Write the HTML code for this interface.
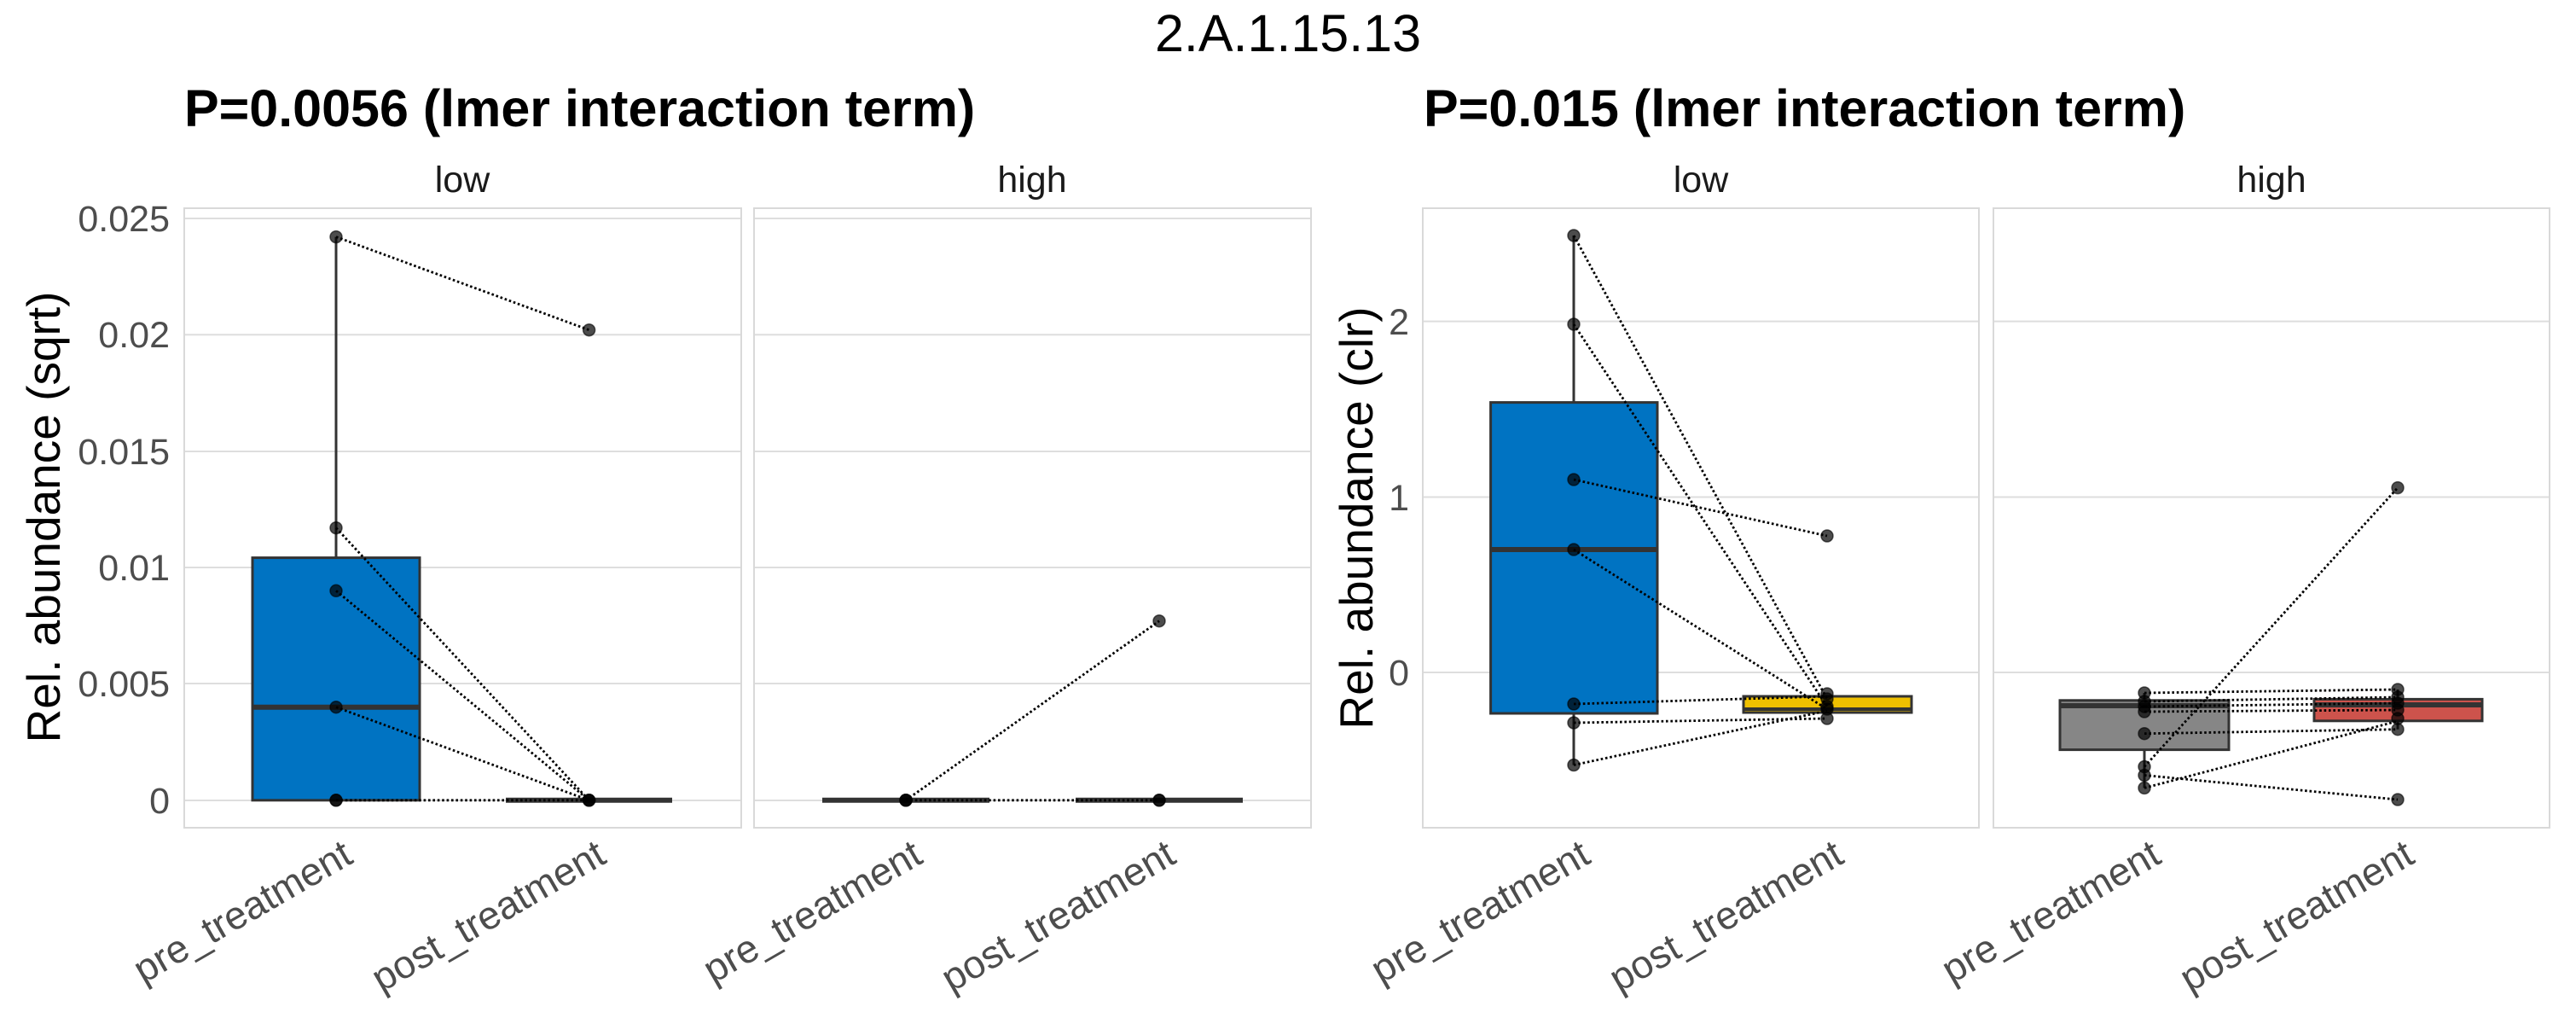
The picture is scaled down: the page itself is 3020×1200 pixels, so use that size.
<!DOCTYPE html>
<html><head><meta charset="utf-8"><style>
html,body{margin:0;padding:0;background:#fff;}
svg{display:block;}
text{font-family:"Liberation Sans",Arial,sans-serif;}
</style></head><body>
<svg width="3020" height="1200" viewBox="0 0 3020 1200" xmlns="http://www.w3.org/2000/svg">
<rect width="3020" height="1200" fill="#fff"/>
<!-- titles -->
<text x="1510" y="60" font-size="61" text-anchor="middle" fill="#000">2.A.1.15.13</text>
<text x="216" y="148" font-size="61" font-weight="bold" fill="#000">P=0.0056 (lmer interaction term)</text>
<text x="1669" y="148" font-size="61" font-weight="bold" fill="#000">P=0.015 (lmer interaction term)</text>
<!-- strips -->
<g font-size="43" fill="#1a1a1a" text-anchor="middle">
<text x="542" y="225">low</text>
<text x="1210" y="225">high</text>
<text x="1994" y="225">low</text>
<text x="2663" y="225">high</text>
</g>
<!-- y titles -->
<text transform="translate(70,606) rotate(-90)" font-size="55" text-anchor="middle" fill="#000">Rel. abundance (sqrt)</text>
<text transform="translate(1609,607) rotate(-90)" font-size="55" text-anchor="middle" fill="#000">Rel. abundance (clr)</text>

<!-- gridlines -->
<g stroke="#dedede" stroke-width="2">
<line x1="216" x2="869" y1="256" y2="256"/><line x1="216" x2="869" y1="392.3" y2="392.3"/><line x1="216" x2="869" y1="529" y2="529"/><line x1="216" x2="869" y1="665" y2="665"/><line x1="216" x2="869" y1="801" y2="801"/><line x1="216" x2="869" y1="938" y2="938"/>
<line x1="884" x2="1537" y1="256" y2="256"/><line x1="884" x2="1537" y1="392.3" y2="392.3"/><line x1="884" x2="1537" y1="529" y2="529"/><line x1="884" x2="1537" y1="665" y2="665"/><line x1="884" x2="1537" y1="801" y2="801"/><line x1="884" x2="1537" y1="938" y2="938"/>
<line x1="1668" x2="2320" y1="376.6" y2="376.6"/><line x1="1668" x2="2320" y1="582.5" y2="582.5"/><line x1="1668" x2="2320" y1="788" y2="788"/>
<line x1="2337" x2="2989" y1="376.6" y2="376.6"/><line x1="2337" x2="2989" y1="582.5" y2="582.5"/><line x1="2337" x2="2989" y1="788" y2="788"/>
</g>
<!-- panel borders -->
<g fill="none" stroke="#d9d9d9" stroke-width="2">
<rect x="216" y="244" width="653" height="726"/>
<rect x="884" y="244" width="653" height="726"/>
<rect x="1668" y="244" width="652" height="726"/>
<rect x="2337" y="244" width="652" height="726"/>
</g>
<!-- y tick labels -->
<g font-size="43" fill="#4d4d4d" text-anchor="end">
<text x="199" y="271">0.025</text><text x="199" y="407">0.02</text><text x="199" y="544">0.015</text><text x="199" y="680">0.01</text><text x="199" y="816">0.005</text><text x="199" y="953">0</text>
<text x="1652" y="392">2</text><text x="1652" y="598">1</text><text x="1652" y="803">0</text>
</g>
<!-- x tick labels -->
<g font-size="46" fill="#4d4d4d" text-anchor="end">
<text transform="translate(416,1010) rotate(-30)">pre_treatment</text>
<text transform="translate(713,1010) rotate(-30)">post_treatment</text>
<text transform="translate(1084,1010) rotate(-30)">pre_treatment</text>
<text transform="translate(1381,1010) rotate(-30)">post_treatment</text>
<text transform="translate(1867,1010) rotate(-30)">pre_treatment</text>
<text transform="translate(2164,1010) rotate(-30)">post_treatment</text>
<text transform="translate(2536,1010) rotate(-30)">pre_treatment</text>
<text transform="translate(2833,1010) rotate(-30)">post_treatment</text>
</g>

<!-- Panel 1 boxes -->
<g stroke="#333" stroke-width="3">
<line x1="394" y1="277.6" x2="394" y2="653.6"/>
<rect x="296" y="653.6" width="196" height="284.2" fill="#0073C2"/>
<line x1="296" x2="492" y1="828.7" y2="828.7" stroke-width="6"/>
<line x1="593" x2="788" y1="937.8" y2="937.8" stroke-width="6"/>
<!-- Panel 2 -->
<line x1="964" x2="1160" y1="937.8" y2="937.8" stroke-width="6"/>
<line x1="1261" x2="1457" y1="937.8" y2="937.8" stroke-width="6"/>
<!-- Panel 3 -->
<line x1="1845" y1="276" x2="1845" y2="471.6"/>
<line x1="1845" y1="836" x2="1845" y2="896.5"/>
<rect x="1747.6" y="471.6" width="195.4" height="364.4" fill="#0073C2"/>
<line x1="1747.6" x2="1943" y1="644" y2="644" stroke-width="6"/>
<rect x="2044" y="816" width="197" height="19" fill="#EFC000"/>
<line x1="2044" x2="2241" y1="831" y2="831" stroke-width="4"/>
<!-- Panel 4 -->
<line x1="2514" y1="812" x2="2514" y2="820.8"/>
<line x1="2514" y1="878.6" x2="2514" y2="923.4"/>
<rect x="2415" y="820.8" width="198" height="57.8" fill="#868686"/>
<line x1="2415" x2="2613" y1="827" y2="827" stroke-width="6"/>
<line x1="2811" y1="808" x2="2811" y2="819.4"/>
<line x1="2811" y1="844.8" x2="2811" y2="854.7"/>
<rect x="2713" y="819.4" width="197" height="25.4" fill="#CD534C"/>
<line x1="2713" x2="2910" y1="826" y2="826" stroke-width="6"/>
</g>

<!-- points -->
<g fill="#000" fill-opacity="0.7" stroke="#000" stroke-opacity="0.6" stroke-width="1.5">
<circle cx="394" cy="277.6" r="7"/><circle cx="394" cy="618.6" r="7"/><circle cx="394" cy="692.3" r="7"/><circle cx="394" cy="828.7" r="7"/><circle cx="394" cy="937.8" r="7"/><circle cx="394" cy="937.8" r="7"/>
<circle cx="690.6" cy="386.7" r="7"/><circle cx="690.6" cy="937.8" r="7"/><circle cx="690.6" cy="937.8" r="7"/><circle cx="690.6" cy="937.8" r="7"/>
<circle cx="1062" cy="937.8" r="7"/><circle cx="1062" cy="937.8" r="7"/><circle cx="1062" cy="937.8" r="7"/>
<circle cx="1359" cy="727.7" r="7"/><circle cx="1359" cy="937.8" r="7"/><circle cx="1359" cy="937.8" r="7"/>
<circle cx="1845" cy="276" r="7"/><circle cx="1845" cy="380" r="7"/><circle cx="1845" cy="562" r="7"/><circle cx="1845" cy="644" r="7"/><circle cx="1845" cy="825" r="7"/><circle cx="1845" cy="847" r="7"/><circle cx="1845" cy="896.5" r="7"/>
<circle cx="2142" cy="628" r="7"/><circle cx="2142" cy="813" r="7"/><circle cx="2142" cy="819" r="7"/><circle cx="2142" cy="828" r="7"/><circle cx="2142" cy="831" r="7"/><circle cx="2142" cy="842" r="7"/>
<circle cx="2514" cy="812" r="7"/><circle cx="2514" cy="822" r="7"/><circle cx="2514" cy="828" r="7"/><circle cx="2514" cy="834" r="7"/><circle cx="2514" cy="859.7" r="7"/><circle cx="2514" cy="898.5" r="7"/><circle cx="2514" cy="908.5" r="7"/><circle cx="2514" cy="923.4" r="7"/>
<circle cx="2811" cy="571.6" r="7"/><circle cx="2811" cy="808" r="7"/><circle cx="2811" cy="817" r="7"/><circle cx="2811" cy="824" r="7"/><circle cx="2811" cy="832" r="7"/><circle cx="2811" cy="842" r="7"/><circle cx="2811" cy="854.7" r="7"/><circle cx="2811" cy="937" r="7"/>
</g>

<!-- dotted connecting lines -->
<g stroke="#000" stroke-width="2.8" stroke-dasharray="2.6 2.8" fill="none">
<line x1="394" y1="277.6" x2="690.6" y2="386.7"/>
<line x1="394" y1="618.6" x2="690.6" y2="937.8"/>
<line x1="394" y1="692.3" x2="690.6" y2="937.8"/>
<line x1="394" y1="828.7" x2="690.6" y2="937.8"/>
<line x1="394" y1="937.8" x2="690.6" y2="937.8"/>
<line x1="1062" y1="937.8" x2="1359" y2="727.7"/>
<line x1="1062" y1="937.8" x2="1359" y2="937.8"/>
<line x1="1845" y1="276" x2="2142" y2="819"/>
<line x1="1845" y1="380" x2="2142" y2="828"/>
<line x1="1845" y1="562" x2="2142" y2="628"/>
<line x1="1845" y1="644" x2="2142" y2="831"/>
<line x1="1845" y1="825" x2="2142" y2="816"/>
<line x1="1845" y1="847" x2="2142" y2="842"/>
<line x1="1845" y1="896.5" x2="2142" y2="833"/>
<line x1="2514" y1="898.5" x2="2811" y2="571.6"/>
<line x1="2514" y1="908.5" x2="2811" y2="937"/>
<line x1="2514" y1="923.4" x2="2811" y2="845"/>
<line x1="2514" y1="812" x2="2811" y2="808"/>
<line x1="2514" y1="822" x2="2811" y2="817"/>
<line x1="2514" y1="828" x2="2811" y2="824"/>
<line x1="2514" y1="834" x2="2811" y2="832"/>
<line x1="2514" y1="859.7" x2="2811" y2="854.7"/>
</g>
</svg>
</body></html>
